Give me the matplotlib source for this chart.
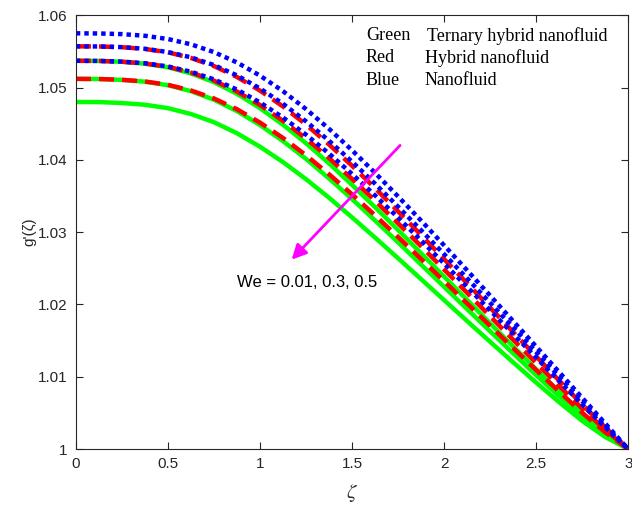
import matplotlib
matplotlib.use("Agg")
import matplotlib.pyplot as plt

plt.rcParams['font.family'] = ['Liberation Sans', 'DejaVu Sans']
plt.rcParams['mathtext.fontset'] = 'stix'

# zeta grid (step 0.125)
zeta = [0, 0.125, 0.25, 0.375, 0.5, 0.625, 0.75, 0.875, 1.0, 1.125, 1.25, 1.375, 1.5,
        1.625, 1.75, 1.875, 2.0, 2.125, 2.25, 2.375, 2.5, 2.625, 2.75, 2.875, 3.0]

# Blue: nanofluid (We = 0.01, 0.3, 0.5)
blue_1 = [1.05750, 1.05748, 1.05739, 1.05716, 1.05671, 1.05598, 1.05490, 1.05347, 1.05165,
          1.04950, 1.04702, 1.04429, 1.04133, 1.03820, 1.03494, 1.03160, 1.02818, 1.02472,
          1.02122, 1.01770, 1.01418, 1.01064, 1.00709, 1.00355, 1.0]
blue_2 = [1.05570, 1.05568, 1.05559, 1.05536, 1.05491, 1.05418, 1.05311, 1.05168, 1.04988,
          1.04776, 1.04533, 1.04264, 1.03975, 1.03670, 1.03353, 1.03027, 1.02696, 1.02361,
          1.02022, 1.01683, 1.01343, 1.01003, 1.00663, 1.00329, 1.0]
blue_3 = [1.05370, 1.05368, 1.05359, 1.05336, 1.05292, 1.05219, 1.05113, 1.04972, 1.04795,
          1.04586, 1.04349, 1.04087, 1.03805, 1.03509, 1.03201, 1.02886, 1.02566, 1.02243,
          1.01918, 1.01591, 1.01265, 1.00940, 1.00617, 1.00302, 1.0]

# Red: hybrid nanofluid
red_1 = [1.05570, 1.05568, 1.05558, 1.05534, 1.05487, 1.05409, 1.05297, 1.05146, 1.04958,
         1.04738, 1.04488, 1.04213, 1.03918, 1.03609, 1.03288, 1.02960, 1.02628, 1.02293,
         1.01956, 1.01618, 1.01282, 1.00947, 1.00617, 1.00299, 1.0]
red_2 = [1.05370, 1.05368, 1.05357, 1.05333, 1.05287, 1.05208, 1.05096, 1.04945, 1.04759,
         1.04540, 1.04295, 1.04025, 1.03736, 1.03435, 1.03123, 1.02806, 1.02484, 1.02161,
         1.01837, 1.01513, 1.01191, 1.00873, 1.00561, 1.00266, 1.0]
red_3 = [1.05120, 1.05118, 1.05107, 1.05084, 1.05038, 1.04960, 1.04849, 1.04700, 1.04516,
         1.04303, 1.04064, 1.03802, 1.03523, 1.03233, 1.02933, 1.02629, 1.02322, 1.02014,
         1.01705, 1.01398, 1.01094, 1.00794, 1.00502, 1.00233, 1.0]

# Green: ternary hybrid nanofluid
green_1 = [1.05370, 1.05368, 1.05356, 1.05330, 1.05280, 1.05195, 1.05075, 1.04913, 1.04715,
           1.04486, 1.04230, 1.03951, 1.03654, 1.03346, 1.03030, 1.02709, 1.02386, 1.02063,
           1.01740, 1.01420, 1.01103, 1.00792, 1.00493, 1.00223, 1.0]
green_2 = [1.05120, 1.05118, 1.05106, 1.05081, 1.05032, 1.04950, 1.04832, 1.04674, 1.04482,
           1.04259, 1.04013, 1.03743, 1.03458, 1.03162, 1.02859, 1.02552, 1.02244, 1.01936,
           1.01629, 1.01324, 1.01023, 1.00730, 1.00449, 1.00198, 1.0]
green_3 = [1.04800, 1.04799, 1.04786, 1.04762, 1.04715, 1.04634, 1.04521, 1.04368, 1.04182,
           1.03969, 1.03733, 1.03476, 1.03205, 1.02925, 1.02639, 1.02350, 1.02060, 1.01771,
           1.01484, 1.01200, 1.00920, 1.00648, 1.00390, 1.00167, 1.0]

xticks = [0, 0.5, 1, 1.5, 2, 2.5, 3]
xticklabels = ['0', '0.5', '1', '1.5', '2', '2.5', '3']
yticks = [1.0, 1.01, 1.02, 1.03, 1.04, 1.05, 1.06]
yticklabels = ['1', '1.01', '1.02', '1.03', '1.04', '1.05', '1.06']

fig = plt.figure(figsize=(6.32, 5.08), dpi=100)
ax = fig.add_axes([0.120, 0.116, 0.874, 0.854])

lw = 3.2
for g in [green_1, green_2, green_3]:
    ax.plot(zeta, g, color=(0, 1, 0), lw=lw, solid_capstyle='butt')
for r in [red_1, red_2, red_3]:
    ax.plot(zeta, r, color=(1, 0, 0), lw=lw, dashes=(3.4, 1.8), dash_capstyle='butt')
for b in [blue_1, blue_2, blue_3]:
    ax.plot(zeta, b, color=(0, 0, 1), lw=lw, dashes=(1.0, 0.9), dash_capstyle='butt')

# arrow showing increasing We
ax.annotate('', xy=(1.172, 1.0262), xytext=(1.761, 1.0420),
            arrowprops=dict(arrowstyle='-|>', color=(1, 0, 1), lw=2,
                            mutation_scale=22, shrinkA=0, shrinkB=0))
ax.text(0.875, 1.0231, 'We = 0.01, 0.3, 0.5', fontsize=12, va='center', ha='left')

# colour key
key_font = ['Liberation Serif', 'DejaVu Serif']
ax.text(0.525, 0.953, 'Green', transform=ax.transAxes, family=key_font, fontsize=13, va='center')
ax.text(0.635, 0.953, 'Ternary hybrid nanofluid', transform=ax.transAxes, family=key_font, fontsize=13, va='center')
ax.text(0.525, 0.902, 'Red', transform=ax.transAxes, family=key_font, fontsize=13, va='center')
ax.text(0.632, 0.902, 'Hybrid nanofluid', transform=ax.transAxes, family=key_font, fontsize=13, va='center')
ax.text(0.525, 0.849, 'Blue', transform=ax.transAxes, family=key_font, fontsize=13, va='center')
ax.text(0.632, 0.849, 'Nanofluid', transform=ax.transAxes, family=key_font, fontsize=13, va='center')

ax.set_xlim(0, 3)
ax.set_ylim(1.0, 1.06)
ax.set_xticks(xticks)
ax.set_xticklabels(xticklabels)
ax.set_yticks(yticks)
ax.set_yticklabels(yticklabels)
ax.tick_params(direction='in', top=True, right=True, length=5, width=0.8,
               labelsize=11, colors='0.15')
ax.tick_params(axis='x', pad=6)
ax.tick_params(axis='y', pad=6)
for s in ax.spines.values():
    s.set_color('0.15')
    s.set_linewidth(0.8)

ax.set_xlabel(r'$\zeta$', fontsize=15, color='0.15')
ax.set_ylabel("g'(ζ)", fontsize=11, color='0.15')
ax.xaxis.set_label_coords(0.5, -0.075)
ax.yaxis.set_label_coords(-0.071, 0.5)

fig.savefig('out.png', dpi=100)
